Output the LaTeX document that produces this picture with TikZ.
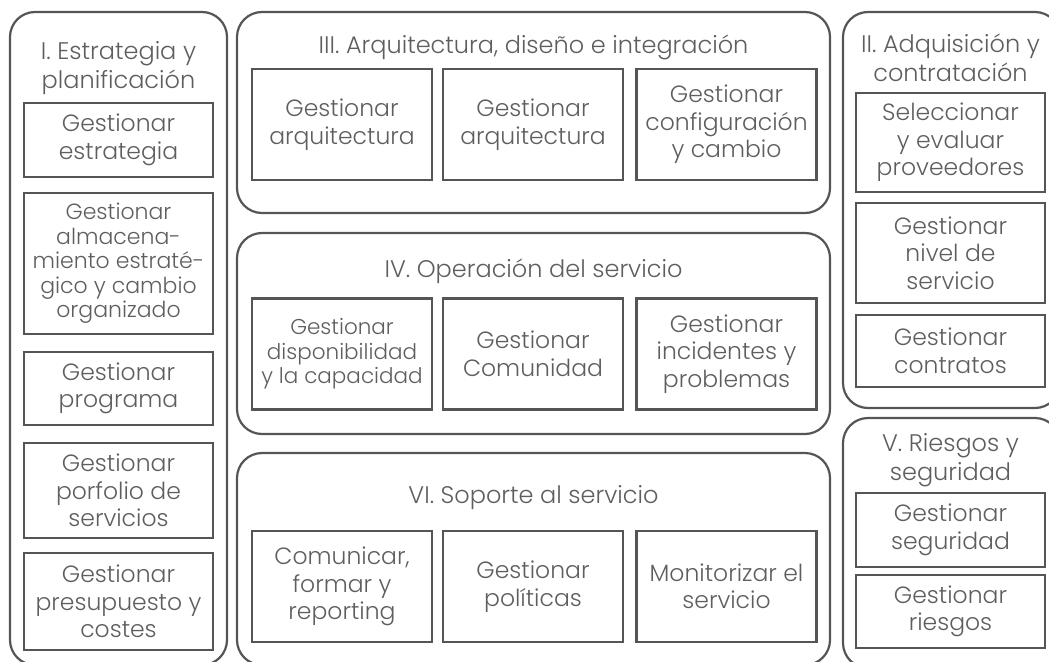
\documentclass[tikz,border=0pt]{standalone}
\usepackage{fontspec}
\setmainfont{Poppins}[UprightFont={* Light}]
\usetikzlibrary{positioning}
\definecolor{linegray}{HTML}{555555}
\definecolor{textgray}{HTML}{5E5E5E}

\begin{document}
\begin{tikzpicture}[x=1pt,y=-1pt,
actbox/.style={draw=linegray,rectangle,line width=2.6pt,minimum width=189pt,inner sep=0pt,align=center,text=textgray,font=\fontsize{23.5}{27.5}\selectfont},
midbox/.style={actbox,minimum width=180pt,minimum height=111pt},
areabox/.style={draw=linegray,rectangle,line width=2.2pt,rounded corners=25pt,inner sep=0pt},
areatitle/.style={align=center,text=textgray,inner sep=0pt,font=\fontsize{24}{29}\selectfont}]

\useasboundingbox (0,0) rectangle (1049,661);
\clip (0,0) rectangle (1049,661);

% grupos
\node[areabox,minimum width=217pt,minimum height=653pt] (estr) at (118.5,338.5) {};
\node[areabox,minimum width=593pt,minimum height=201pt] (arq) at (533.5,112.5) {};
\node[areabox,minimum width=593pt,minimum height=201pt] (oper) at (533.5,333.5) {};
\node[areabox,minimum width=593pt,minimum height=212pt] (sop) at (533.5,559) {};
\node[areabox,minimum width=217pt,minimum height=396pt] (adq) at (951.5,210) {};
\node[areabox,minimum width=217pt,minimum height=250pt] (ries) at (951.5,543) {};

% titulos
\node[areatitle] (estrT) at (118.5,68) {I. Estrategia y\\planificación};
\node[areatitle] (arqT) at (533.5,47) {III. Arquitectura, diseño e integración};
\node[areatitle] (operT) at (533.5,271) {IV. Operación del servicio};
\node[areatitle] (sopT) at (533.5,498) {VI. Soporte al servicio};
\node[areatitle] (adqT) at (950.5,58) {II. Adquisición y\\contratación};
\node[areatitle] (riesT) at (950.5,460) {V. Riesgos y\\seguridad};

% I. Estrategia y planificacion
\node[actbox,minimum height=74pt] (gEstr) at (118.5,140) {Gestionar\\estrategia};
\node[actbox,minimum height=141pt,font=\fontsize{22}{24.5}\selectfont] (gAlm) at (118.5,263.5) {Gestionar\\almacena-\\miento estraté-\\gico y cambio\\organizado};
\node[actbox,minimum height=73pt] (gProg) at (118.5,388.5) {Gestionar\\programa};
\node[actbox,minimum height=95pt] (gPorf) at (118.5,490.5) {Gestionar\\porfolio de\\servicios};
\node[actbox,minimum height=97pt] (gPres) at (118.5,601.5) {Gestionar\\presupuesto y\\costes};

% III. Arquitectura
\node[midbox] (gArqA) at (342,124.5) {Gestionar\\arquitectura};
\node[midbox] (gArqB) at (533,124.5) {Gestionar\\arquitectura};
\node[midbox] (gConf) at (726.5,124.5) {Gestionar\\configuración\\y cambio};

% IV. Operacion
\node[midbox,font=\fontsize{21.5}{24.5}\selectfont] (gDisp) at (342,354) {Gestionar\\disponibilidad\\y la capacidad};
\node[midbox] (gCom) at (533,354) {Gestionar\\Comunidad};
\node[midbox] (gInc) at (726.5,354) {Gestionar\\incidentes y\\problemas};

% VI. Soporte
\node[midbox] (comF) at (342,586.5) {Comunicar,\\formar y\\reporting};
\node[midbox] (gPol) at (533,586.5) {Gestionar\\políticas};
\node[midbox] (monS) at (726.5,586.5) {Monitorizar el\\servicio};

% II. Adquisicion
\node[actbox,minimum height=99pt] (selP) at (950.5,142.5) {Seleccionar\\y evaluar\\proveedores};
\node[actbox,minimum height=100pt] (gNiv) at (950.5,253) {Gestionar\\nivel de\\servicio};
\node[actbox,minimum height=72pt] (gCont) at (950.5,351) {Gestionar\\contratos};

% V. Riesgos
\node[actbox,minimum height=74pt] (gSeg) at (950.5,530) {Gestionar\\seguridad};
\node[actbox,minimum height=73pt] (gRies) at (950.5,611.5) {Gestionar\\riesgos};

\end{tikzpicture}
\end{document}
